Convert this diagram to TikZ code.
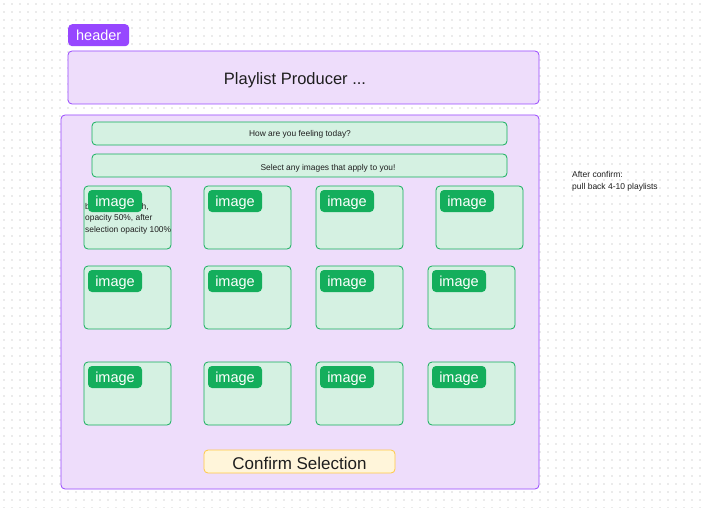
\documentclass[tikz,border=0pt]{standalone}
\usepackage{fontspec}
\setmainfont{Liberation Sans}
\definecolor{purp}{HTML}{9747FF}
\definecolor{purpfill}{HTML}{EEDDFB}
\definecolor{grn}{HTML}{14AE5C}
\definecolor{grnfill}{HTML}{D5F1E2}
\definecolor{ylw}{HTML}{FFC943}
\definecolor{ylwfill}{HTML}{FFF5DA}
\definecolor{dotc}{HTML}{EBEBEB}
\definecolor{txt}{HTML}{1E1E1E}
\tikzset{
  frame/.style={draw=purp, fill=purpfill, rounded corners=4pt, line width=0.8pt},
  tagbox/.style={fill=purp, rounded corners=4pt, text=white, font=\fontsize{14.5}{16}\selectfont, inner sep=0pt, anchor=north west, minimum height=22pt, text width=61pt, align=center},
  card/.style={draw=grn, fill=grnfill, rounded corners=4pt, line width=0.8pt},
  imgtag/.style={fill=grn, rounded corners=4pt, line width=0pt, inner sep=0pt, anchor=north west},
  imgtext/.style={text=white, font=\fontsize{14.5}{16}\selectfont, inner sep=0pt},
  small/.style={text=txt, font=\fontsize{8.4}{11.5}\selectfont, inner sep=0pt},
}
\begin{document}
\begin{tikzpicture}[x=1pt,y=-1pt]
\useasboundingbox (0,0) rectangle (706,508);
\fill[white] (0,0) rectangle (706,508);
\foreach \i in {0,...,87} {
  \foreach \j in {0,...,63} {
    \fill[dotc] (4+8*\i-0.8,4+8*\j-0.8) rectangle ++(1.6,1.6);
  }
}
% header tag and frame
\node[tagbox] (htag) at (68,24) {header};
\draw[frame] (68,51) rectangle (539,104);
\node[text=txt, font=\fontsize{16.5}{18}\selectfont, inner sep=0pt] (title) at (295,80) {Playlist Producer ...};
% main frame
\draw[frame] (61,115) rectangle (539,489);
\draw[card] (92,122) rectangle (507,145);
\node[small] (q1) at (300,134) {How are you feeling today?};
\draw[card] (92,154) rectangle (507,177);
\node[small] (q2) at (328,168) {Select any images that apply to you!};
% cards
\foreach \x/\y [count=\k] in {84/186,204/186,316/186,436/186,84/266,204/266,316/266,428/266,84/362,204/362,316/362,428/362} {
  \draw[card] (\x,\y) rectangle ++(87,63);
  \ifnum\k=1
    \node[small, anchor=north west, align=left] (note1) at (\x+1,\y+17) {blur with a touch,\\opacity 50\%, after\\selection opacity 100\%};
  \fi
  \fill[grn, rounded corners=4pt] (\x+4,\y+4) rectangle ++(54,22);
  \node[imgtext] (tag\k) at (\x+31,\y+16.5) {image};
}
% confirm button
\draw[draw=ylw, fill=ylwfill, rounded corners=4pt, line width=0.8pt] (204,450) rectangle (395,473);
\node[text=txt, font=\fontsize{17}{19}\selectfont, inner sep=0pt] (confirm) at (299.5,463) {Confirm Selection};
% side note
\node[small, anchor=north west, align=left, font=\fontsize{8.5}{12}\selectfont] (side) at (572,171) {After confirm:\\pull back 4-10 playlists};
\end{tikzpicture}
\end{document}
